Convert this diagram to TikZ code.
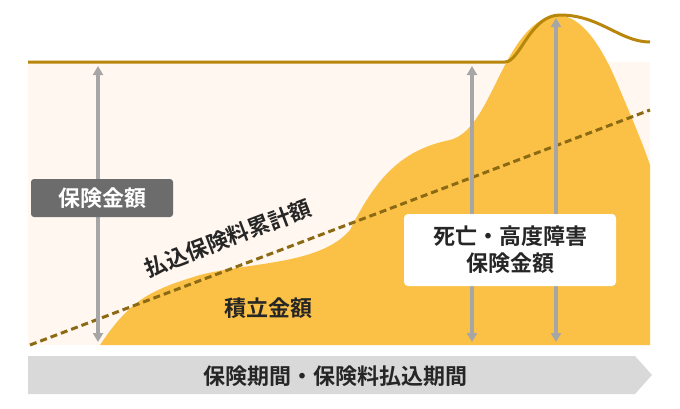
\documentclass[tikz,border=0pt]{standalone}
\usepackage{fontspec}
\usetikzlibrary{arrows.meta}
\newfontfamily\cjk{Noto Sans CJK JP Bold}
\definecolor{ylw}{HTML}{FAC146}
\definecolor{brn}{HTML}{B8860B}
\definecolor{dbrn}{HTML}{8C6A14}
\begin{document}
\begin{tikzpicture}[x=1pt,y=-1pt,
  garrow/.style={draw=gray!70,line width=3.5pt,{Triangle[length=9pt,width=10pt]}-{Triangle[length=9pt,width=10pt]}},
  lbl/.style={font=\cjk\fontsize{22}{27}\selectfont,text=black!85}]
\useasboundingbox (0,0) rectangle (680,408);
\fill[orange!6] (28,62) rectangle (650,345);
\fill[ylw] (100,345) .. controls (130,300) and (150,290) .. (200,275)
 .. controls (250,262) and (320,265) .. (350,230)
 .. controls (375,180) and (400,150) .. (450,140)
 .. controls (490,130) and (500,40) .. (545,18)
 .. controls (575,5) and (600,40) .. (620,90)
 .. controls (635,125) and (645,150) .. (650,165) -- (650,345) -- cycle;
\draw[draw=brn,line width=3pt] (28,62) -- (505,62)
 .. controls (520,62) and (530,15) .. (560,15) .. controls (600,15) and (620,42) .. (650,42);
\draw[dbrn,line width=3pt,dash pattern=on 7pt off 4pt] (30,345) -- (650,110);
\draw[garrow] (98,66) -- (98,342);
\draw[garrow] (472,66) -- (472,342);
\draw[garrow] (556,18) -- (556,342);
\node[fill=gray!85!black,rounded corners=3pt,text=white,font=\cjk\fontsize{22}{27}\selectfont,minimum width=142pt,minimum height=38pt] (k) at (102,198) {保険金額};
\node[fill=white,rounded corners=4pt,lbl,align=center,minimum width=212pt,minimum height=72pt] (d) at (510,250) {死亡・高度障害\\保険金額};
\node[lbl,rotate=20.8] (h) at (228,238) {払込保険料累計額};
\node[lbl] (t) at (268,308) {積立金額};
\fill[gray!30] (28,356) -- (635,356) -- (652,375) -- (635,394) -- (28,394) -- cycle;
\node[lbl] (p) at (335,376) {保険期間・保険料払込期間};
\end{tikzpicture}
\end{document}
